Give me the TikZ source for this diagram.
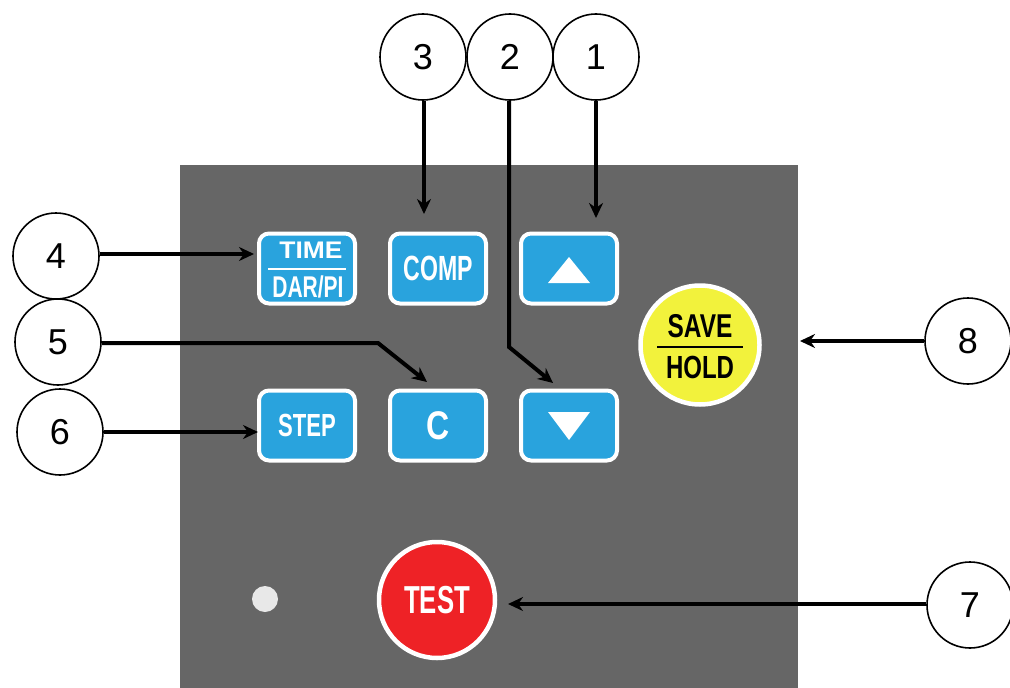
\documentclass[tikz,border=0pt]{standalone}
\usepackage{fontspec}
\setmainfont{Liberation Sans}
\usetikzlibrary{arrows.meta}
\definecolor{panelgray}{HTML}{666666}
\definecolor{keyblue}{HTML}{29A3DD}
\definecolor{keyyellow}{HTML}{F2F23C}
\definecolor{keyred}{HTML}{EE2226}
\definecolor{dotgray}{HTML}{E8E8E8}
\newcommand{\kt}[3]{\scalebox{#1}[1]{\fontsize{#2}{#2}\selectfont\bfseries #3}}
\tikzset{
  callout/.style={circle, draw=black, line width=1.6pt, minimum size=86pt, inner sep=0pt,
    fill=white, font=\fontsize{36}{36}\selectfont},
  key/.style={rectangle, rounded corners=10pt, draw=white, line width=4pt, fill=keyblue,
    minimum width=96pt, minimum height=70pt, inner sep=0pt, text=white},
  roundkey/.style={circle, draw=white, line width=4.5pt, inner sep=0pt},
  lbl/.style={anchor=base, inner sep=0pt},
  lead/.style={line width=4pt, -{Stealth[length=15pt,width=14pt]}},
}
\begin{document}
\begin{tikzpicture}[x=1pt,y=-1pt]
\useasboundingbox (0,0) rectangle (1010,688);
% panel
\fill[panelgray] (180,165) rectangle (798,688);
% keys
\node[key] (time) at (307,268.5) {};
\node[key] (comp) at (438,268.5) {\kt{0.66}{35}{COMP}};
\node[key] (up) at (569,268.5) {};
\node[key] (step) at (307,425.5) {\kt{0.69}{32}{STEP}};
\node[key] (cbtn) at (438,425.5) {\kt{0.8}{40}{C}};
\node[key] (down) at (569,425.5) {};
% key faces
\node[lbl, text=white] (timet) at (311,258) {\kt{1.1}{24}{TIME}};
\draw[white, line width=2pt] ([shift={(-39,0)}]time.center) -- ([shift={(39,0)}]time.center);
\node[lbl, text=white] (dart) at (308,297) {\kt{0.7}{30}{DAR/PI}};
\fill[white] ([shift={(-21,14.5)}]up.center) -- ([shift={(21,14.5)}]up.center) -- ([shift={(0,-11.5)}]up.center) -- cycle;
\fill[white] ([shift={(-21,-13.5)}]down.center) -- ([shift={(21,-13.5)}]down.center) -- ([shift={(0,14.5)}]down.center) -- cycle;
% round keys
\node[roundkey, fill=keyyellow, minimum size=119pt] (save) at (700,345) {};
\node[lbl] (savet) at (700,337) {\kt{0.74}{33}{SAVE}};
\draw[black, line width=2pt] ([shift={(-43,2)}]save.center) -- ([shift={(43,2)}]save.center);
\node[lbl] (holdt) at (700,378) {\kt{0.75}{32}{HOLD}};
\node[roundkey, fill=keyred, minimum size=116pt, text=white] (test) at (437,600) {\kt{0.66}{39}{TEST}};
\fill[dotgray] (265,599) circle (13);
% callouts
\node[callout] (c3) at (423,57) {3};
\node[callout] (c2) at (510,57) {2};
\node[callout] (c1) at (596,57) {1};
\node[callout] (c4) at (56,256) {4};
\node[callout] (c5) at (58,342) {5};
\node[callout] (c6) at (60,432) {6};
\node[callout] (c8) at (968,341) {8};
\node[callout] (c7) at (970,605) {7};
% leader ends
\coordinate (t3) at (424,214);
\coordinate (t1) at (596,218);
\coordinate (t4) at (254,254);
\coordinate (b5) at (378,343);
\coordinate (t5) at (427,382);
\coordinate (t6) at (258,432);
\coordinate (b2) at (509,347);
\coordinate (t2) at (553,383);
\coordinate (t8) at (800,341);
\coordinate (t7) at (508,604);
% leaders
\draw[lead] (c3.south -| t3) -- (t3);
\draw[lead] (c1.south -| t1) -- (t1);
\draw[lead] (c4.east |- t4) -- (t4);
\draw[lead] (c5.east |- b5) -- (b5) -- (t5);
\draw[lead] (c6.east |- t6) -- (t6);
\draw[lead] (c2.south -| b2) -- (b2) -- (t2);
\draw[lead] (c8.west |- t8) -- (t8);
\draw[lead] (c7.west |- t7) -- (t7);
\end{tikzpicture}
\end{document}
